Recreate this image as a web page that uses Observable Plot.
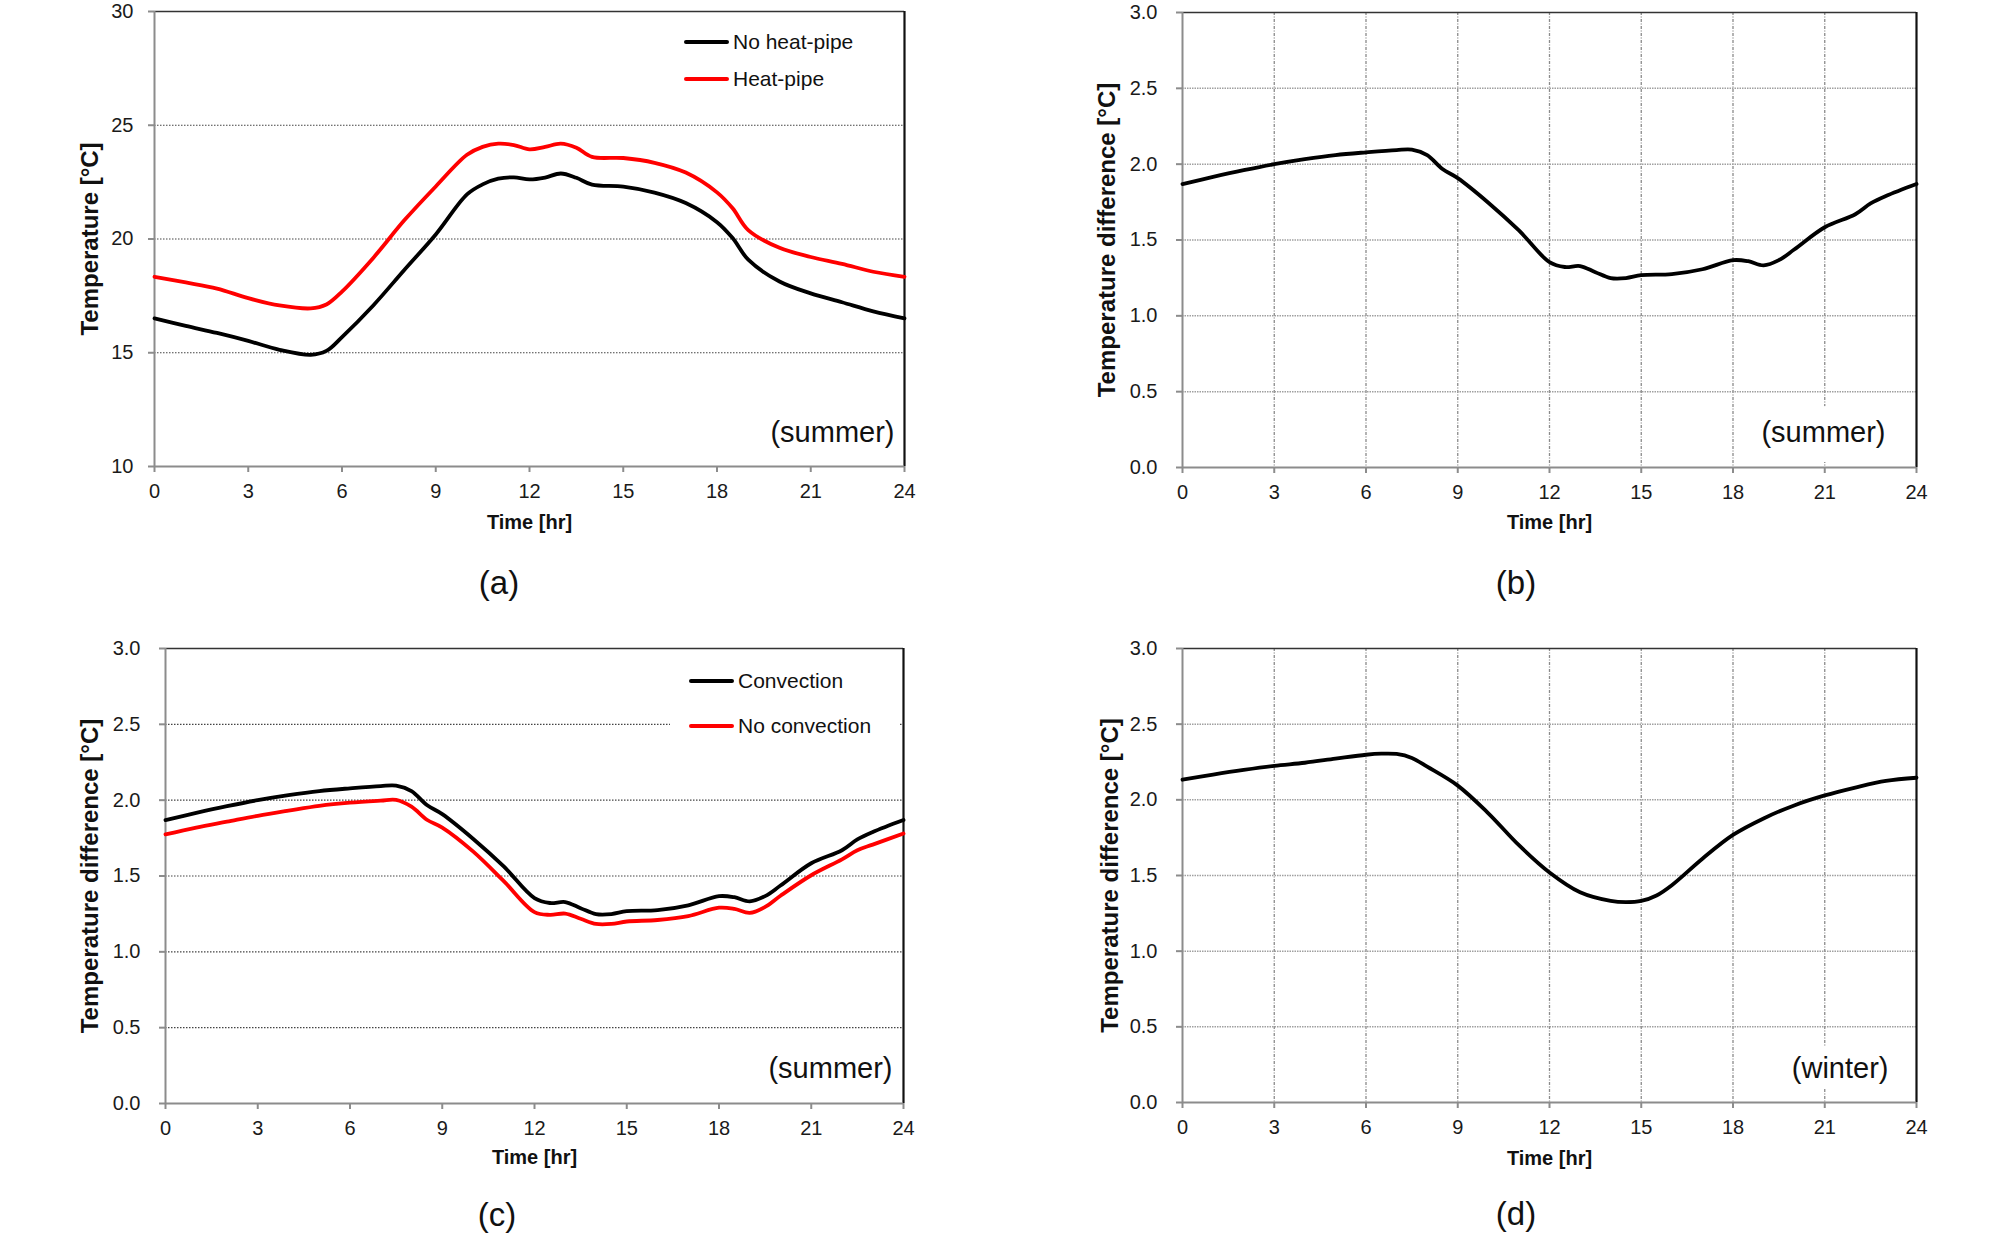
<!DOCTYPE html>
<html>
<head>
<meta charset="utf-8">
<script src="https://cdn.jsdelivr.net/npm/d3@7"></script>
<script src="https://cdn.jsdelivr.net/npm/@observablehq/plot@0.6"></script>
<style>
  html, body { margin: 0; padding: 0; background: #fff; }
  #root { position: relative; width: 2008px; height: 1238px; overflow: hidden; background: #fff;
          font-family: 'Liberation Sans', Arial, Helvetica, sans-serif; color: #111; }
  .panel { position: absolute; }
  .caption { position: absolute; font-size: 33px; transform: translate(-50%, -50%); white-space: nowrap; }
  .legend { position: absolute; background: #fff; font-size: 21px; }
  .legend .item { position: absolute; white-space: nowrap; display: flex; align-items: center; transform: translateY(-50%); }
  .legend .sw { display: inline-block; width: 45px; height: 4px; margin-right: 4px; border-radius: 2px; }
</style>
</head>
<body>
<div id="root"></div>
<script>
// ---------- data ----------
const xTicks = [0, 3, 6, 9, 12, 15, 18, 21, 24];
const tempTicks = [10, 15, 20, 25, 30];
const diffTicks = [0, 0.5, 1.0, 1.5, 2.0, 2.5, 3.0];

// (a) temperature, summer
const hoursA = [0,1,2,3,4,5,5.5,6,7,8,9,10,10.5,11,11.5,12,12.5,13,13.5,14,15,16,17,18,18.5,19,20,21,22,23,24];
const noHeatPipe = [16.51,16.18,15.87,15.52,15.13,14.91,15.08,15.69,17.08,18.65,20.2,21.96,22.4,22.65,22.71,22.62,22.7,22.88,22.69,22.39,22.3,22.04,21.58,20.74,20.04,19.09,18.13,17.61,17.22,16.82,16.51];
const heatPipe = [18.34,18.09,17.82,17.40,17.08,16.95,17.12,17.69,19.17,20.83,22.31,23.70,24.05,24.19,24.13,23.94,24.05,24.19,24.01,23.61,23.56,23.35,22.92,22.05,21.35,20.39,19.61,19.21,18.91,18.56,18.34];

// (b), (c) temperature difference, summer
const hoursB = [0,1,2,3,4,5,6,7,7.5,8,8.5,9,10,11,12,12.5,13,13.5,14,14.5,15,16,17,18,18.5,19,19.5,20,21,22,22.5,23,24];
const convection = [1.869,1.916,1.96,2.0,2.033,2.06,2.078,2.093,2.096,2.06,1.968,1.908,1.746,1.563,1.354,1.322,1.328,1.288,1.249,1.249,1.268,1.275,1.307,1.367,1.36,1.333,1.367,1.437,1.584,1.67,1.741,1.79,1.869];
const noConvection = [1.774,1.819,1.858,1.897,1.931,1.963,1.984,1.997,2.002,1.957,1.871,1.819,1.662,1.466,1.262,1.244,1.252,1.218,1.184,1.184,1.2,1.21,1.236,1.291,1.283,1.257,1.296,1.37,1.505,1.61,1.67,1.707,1.78];

// (d) temperature difference, winter
const hoursD = [0,1,2,3,4,5,6,6.5,7,7.5,8,9,10,11,12,13,14,14.5,15,15.5,16,17,18,19,20,21,22,23,24];
const winterDiff = [2.133,2.167,2.198,2.225,2.245,2.272,2.298,2.305,2.303,2.277,2.219,2.094,1.911,1.70,1.52,1.389,1.332,1.324,1.332,1.368,1.436,1.611,1.768,1.877,1.963,2.029,2.081,2.125,2.146];

// ---------- drawing ----------
const FONT = "'Liberation Sans', Arial, Helvetica, sans-serif";
const root = document.getElementById("root");

function rows(hours, values) { return hours.map((t, i) => ({t, v: values[i]})); }

function panel(o) {
  const [y0, y1] = o.yDomain;
  const inner = o.yTicks.filter(d => d !== y0 && d !== y1);
  const marks = [];
  if (o.vgrid) {
    marks.push(Plot.ruleX(xTicks.filter(d => d !== 0 && d !== 24), {stroke: "#8a8a8a", strokeWidth: 1.3, strokeDasharray: "3,1.5,1,1.5"}));
    marks.push(Plot.ruleY(inner, {stroke: "#a0a0a0", strokeWidth: 1.5, strokeDasharray: "1.5,1"}));
  } else {
    marks.push(Plot.ruleY(inner, {stroke: "#444", strokeWidth: 1.2, strokeDasharray: "1.5,1.5"}));
  }
  // season label (with white box/halo that interrupts grid lines)
  marks.push(Plot.text([o.season], {
    text: d => d, frameAnchor: "bottom-right", textAnchor: "end", lineAnchor: "middle",
    dx: o.seasonDx, dy: o.seasonDy, fontSize: 29, fill: "#111",
    stroke: o.halo ? "white" : null, strokeWidth: o.halo || 0, strokeLinejoin: "round"
  }));
  // frame
  marks.push(Plot.ruleY([y1], {stroke: "#333", strokeWidth: 1.6}));
  marks.push(Plot.ruleX([24], {stroke: "#111", strokeWidth: 2.2}));
  marks.push(Plot.ruleX([0], {stroke: "#8c8c8c", strokeWidth: 2}));
  marks.push(Plot.ruleY([y0], {stroke: "#8c8c8c", strokeWidth: 2}));
  // axes
  marks.push(Plot.axisX(xTicks, {tickSize: 6, tickPadding: 11, fontSize: 20, stroke: "#8c8c8c", strokeWidth: 2, fill: "#1a1a1a", label: null}));
  marks.push(Plot.axisY(o.yTicks, {tickSize: 6, tickPadding: o.yPad, fontSize: 20, stroke: "#8c8c8c", strokeWidth: 2, fill: "#1a1a1a", label: null, tickFormat: o.yFmt}));
  // axis titles
  marks.push(Plot.text(["Time [hr]"], {text: d => d, frameAnchor: "bottom", textAnchor: "middle", dy: o.xTitleDy, fontSize: 20, fontWeight: "bold", fill: "#111"}));
  marks.push(Plot.text([o.yTitle], {text: d => d, frameAnchor: "left", textAnchor: "middle", lineAnchor: "middle", rotate: -90, dx: o.yTitleDx, fontSize: 24, fontWeight: "bold", fill: "#111"}));
  // series
  for (const s of o.series) {
    marks.push(Plot.line(rows(s.hours, s.values), {x: "t", y: "v", stroke: s.color, strokeWidth: 3.8, curve: "catmull-rom"}));
  }
  const svg = Plot.plot({
    width: 1004, height: 619,
    marginLeft: o.m[0], marginRight: o.m[1], marginTop: o.m[2], marginBottom: o.m[3],
    x: {domain: [0, 24]},
    y: {domain: o.yDomain},
    style: {fontFamily: FONT, background: "white", overflow: "visible"},
    marks
  });
  const wrap = document.createElement("div");
  wrap.className = "panel";
  wrap.style.left = o.left + "px";
  wrap.style.top = o.top + "px";
  wrap.appendChild(svg);
  root.appendChild(wrap);
}

function caption(text, x, y) {
  const d = document.createElement("div");
  d.className = "caption";
  d.textContent = text;
  d.style.left = x + "px";
  d.style.top = y + "px";
  root.appendChild(d);
}

function legend(box, items) {
  const d = document.createElement("div");
  d.className = "legend";
  Object.assign(d.style, {left: box.x + "px", top: box.y + "px", width: box.w + "px", height: box.h + "px"});
  for (const it of items) {
    const r = document.createElement("div");
    r.className = "item";
    r.style.left = it.x + "px";
    r.style.top = it.y + "px";
    const sw = document.createElement("span");
    sw.className = "sw";
    sw.style.background = it.color;
    r.appendChild(sw);
    r.appendChild(document.createTextNode(it.label));
    d.appendChild(r);
  }
  root.appendChild(d);
}

const fmt1 = d => d.toFixed(1);

panel({left: 0, top: 0, m: [154, 100, 11, 153], yDomain: [10, 30], yTicks: tempTicks, yFmt: d => String(d), yPad: 15,
  yTitle: "Temperature [°C]", yTitleDx: -64, xTitleDy: 62, season: "(summer)", seasonDx: -10, seasonDy: -34,
  series: [{hours: hoursA, values: noHeatPipe, color: "#000"}, {hours: hoursA, values: heatPipe, color: "#ff0000"}]});

panel({left: 1004, top: 0, m: [178, 92, 12, 152], yDomain: [0, 3], yTicks: diffTicks, yFmt: fmt1, yPad: 19, vgrid: true,
  yTitle: "Temperature difference [°C]", yTitleDx: -75, xTitleDy: 61, season: "(summer)", seasonDx: -31, seasonDy: -35, halo: 40,
  series: [{hours: hoursB, values: convection, color: "#000"}]});

panel({left: 0, top: 619, m: [165, 101, 29, 135], yDomain: [0, 3], yTicks: diffTicks, yFmt: fmt1, yPad: 19,
  yTitle: "Temperature difference [°C]", yTitleDx: -75, xTitleDy: 60, season: "(summer)", seasonDx: -11, seasonDy: -35,
  series: [{hours: hoursB, values: convection, color: "#000"}, {hours: hoursB, values: noConvection, color: "#ff0000"}]});

panel({left: 1004, top: 619, m: [178, 92, 29, 136], yDomain: [0, 3], yTicks: diffTicks, yFmt: fmt1, yPad: 19, vgrid: true,
  yTitle: "Temperature difference [°C]", yTitleDx: -72, xTitleDy: 62, season: "(winter)", seasonDx: -28, seasonDy: -34, halo: 20,
  series: [{hours: hoursD, values: winterDiff, color: "#000"}]});

legend({x: 676, y: 22, w: 215, h: 78}, [
  {label: "No heat-pipe", color: "#000", x: 8, y: 20},
  {label: "Heat-pipe", color: "#ff0000", x: 8, y: 57}
]);
legend({x: 670, y: 656, w: 230, h: 94}, [
  {label: "Convection", color: "#000", x: 19, y: 25},
  {label: "No convection", color: "#ff0000", x: 19, y: 70}
]);

caption("(a)", 499, 583);
caption("(b)", 1516, 583);
caption("(c)", 497, 1215);
caption("(d)", 1516, 1214);
</script>
</body>
</html>
